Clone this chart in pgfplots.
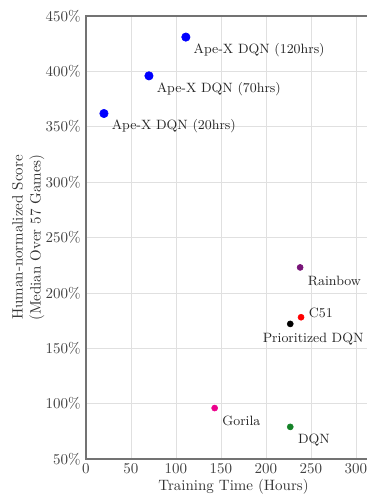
\documentclass[border=0pt]{standalone}
\usepackage{pgfplots}
\pgfplotsset{compat=1.18}
\usetikzlibrary{calc}
\definecolor{rbpurple}{RGB}{120,20,120}
\definecolor{dqngreen}{RGB}{20,130,40}
\begin{document}
\begin{tikzpicture}
\begin{axis}[
  scale only axis,
  width=196.8pt,
  height=295.3pt,
  xmin=0, xmax=328,
  ymin=50, ymax=450,
  xtick={0,50,...,300},
  ytick={50,100,...,450},
  yticklabel={\pgfmathprintnumber{\tick}\%},
  grid=major,
  grid style={black!12, line width=0.5pt},
  axis line style={black!55, line width=0.9pt},
  major tick length=0pt,
  tick label style={text=black!75},
  label style={text=black!80},
  xlabel={Training Time (Hours)},
  xlabel style={yshift=3.5pt},
  ylabel={Human-normalized Score\\(Median Over 57 Games)},
  ylabel style={align=center, yshift=-6pt},
  nodes near coords,
  point meta=explicit symbolic,
  every node near coord/.style={anchor=west, inner sep=0pt, font=\small, text=black!85, xshift=5pt, yshift=-8.7pt},
  clip=false,
]
\addplot[only marks, mark=*, mark size=2.8pt, blue] coordinates {(111,431) [Ape-X DQN (120hrs)] (70,396) [Ape-X DQN (70hrs)] (20,362) [Ape-X DQN (20hrs)]};
\addplot[only marks, mark=*, mark size=2pt, rbpurple] coordinates {(238,223) [Rainbow]};
\addplot[only marks, mark=*, mark size=2pt, red, every node near coord/.append style={yshift=11.4pt}] coordinates {(239,178) [C51]};
\addplot[only marks, mark=*, mark size=2pt, black, every node near coord/.append style={xshift=-23.5pt, yshift=-1.1pt}] coordinates {(227,172) [Prioritized DQN]};
\addplot[only marks, mark=*, mark size=2pt, magenta] coordinates {(143,96) [Gorila]};
\addplot[only marks, mark=*, mark size=2pt, dqngreen] coordinates {(227,79) [DQN]};
\end{axis}
\pgfresetboundingbox
\path ($(current axis.south west)+(-57.3pt,-24pt)$) rectangle ($(current axis.north west)+(186.7pt,10.7pt)$);
\end{tikzpicture}
\end{document}
